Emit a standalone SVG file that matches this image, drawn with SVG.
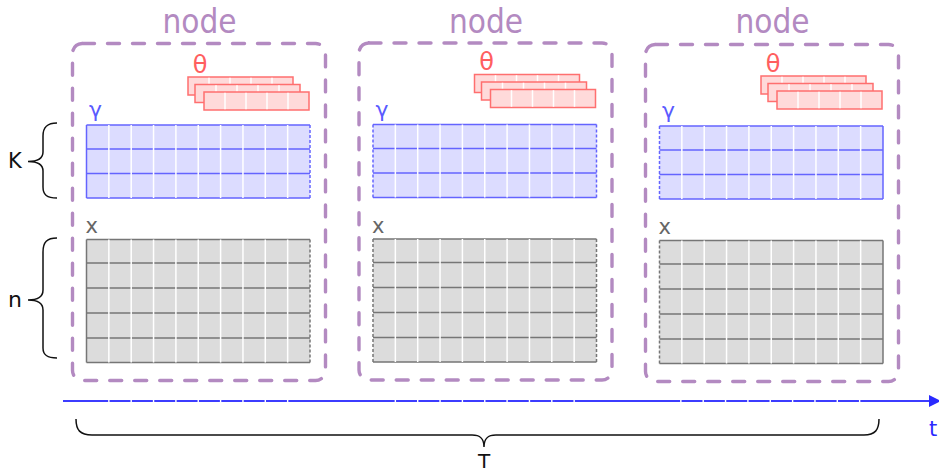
<svg xmlns="http://www.w3.org/2000/svg" width="939" height="473" viewBox="0 0 939 473">
  <style>
    text { font-family: "DejaVu Sans", "Liberation Sans", sans-serif; }
    .frame { fill: none; stroke: #b38ac1; stroke-width: 3.4; stroke-dasharray: 12 13; stroke-linecap: round; }
    .title { font-size: 33px; fill: #b38ac1; text-anchor: middle; font-stretch: condensed; }
    .theta-lbl { font-size: 24px; fill: #ff5f5f; text-anchor: middle; }
    .gamma-lbl { font-size: 22px; fill: #5a5aff; text-anchor: middle; }
    .x-lbl { font-size: 21px; fill: #666666; text-anchor: middle; }
    .sheet { fill: #ffdada; stroke: #ff6f6f; stroke-width: 1.5; }
    .cut { stroke: #ffffff; stroke-width: 1.5; fill: none; }
    .gfill { fill: #dcdcff; }
    .gline { stroke: #6464ff; stroke-width: 1.5; fill: none; }
    .xfill { fill: #dcdcdc; }
    .xline { stroke: #767676; stroke-width: 1.5; fill: none; }
    .dash { stroke-dasharray: 3 2; }
    .brace { fill: none; stroke: #111111; stroke-width: 1.5; }
    .dim { font-size: 21px; fill: #111111; }
  </style>
  <defs>
    <!-- one theta sheet: 5 cells -->
    <g id="sheet">
      <rect class="sheet" x="0" y="0" width="105" height="18"/>
      <path class="cut" d="M21,0.8V17.2M42,0.8V17.2M63,0.8V17.2M84,0.8V17.2"/>
    </g>
    <!-- stack of three theta sheets with its label -->
    <g id="theta">
      <text class="theta-lbl" x="200" y="72.5">θ</text>
      <use href="#sheet" x="188" y="77"/>
      <use href="#sheet" x="195" y="84.5"/>
      <use href="#sheet" x="204" y="92"/>
    </g>
    <!-- white column separators shared by gamma and x grids (10 columns) -->
    <path id="cols-g" class="cut" d="M108.85,125V198M131.2,125V198M153.55,125V198M175.9,125V198M198.25,125V198M220.6,125V198M242.95,125V198M265.3,125V198M287.65,125V198"/>
    <path id="cols-x" class="cut" d="M108.85,239.5V362.5M131.2,239.5V362.5M153.55,239.5V362.5M175.9,239.5V362.5M198.25,239.5V362.5M220.6,239.5V362.5M242.95,239.5V362.5M265.3,239.5V362.5M287.65,239.5V362.5"/>
    <g id="gamma-body">
      <text class="gamma-lbl" x="95.5" y="117">γ</text>
      <rect class="gfill" x="86.5" y="125" width="223.5" height="73"/>
      <path class="gline" d="M86.5,125H310M86.5,149H310M86.5,173.5H310M86.5,198H310"/>
      <use href="#cols-g"/>
    </g>
    <g id="x-body">
      <text class="x-lbl" x="91.7" y="233.3">x</text>
      <rect class="xfill" x="86.5" y="239.5" width="223.5" height="123"/>
      <path class="xline" d="M86.5,239.5H310M86.5,263H310M86.5,288H310M86.5,313H310M86.5,338H310M86.5,362.5H310"/>
      <use href="#cols-x"/>
    </g>
  </defs>

  <!-- first time slice: closed on the left, open on the right -->
  <g id="node-1">
    <text class="title" x="199.5" y="33">node</text>
    <rect class="frame" x="72.5" y="43.5" width="253" height="337" rx="10"/>
    <use href="#theta"/>
    <use href="#gamma-body"/>
    <path class="gline" d="M86.5,125V198"/>
    <path class="gline dash" d="M310,125V198"/>
    <use href="#x-body"/>
    <path class="xline" d="M86.5,239.5V362.5"/>
    <path class="xline dash" d="M310,239.5V362.5"/>
  </g>

  <!-- middle time slice: open on both sides -->
  <g id="node-2" transform="translate(286.5,-0.5)">
    <text class="title" x="199.5" y="33.5">node</text>
    <rect class="frame" x="72.5" y="43.5" width="253" height="337" rx="10"/>
    <g transform="translate(0,-2)"><use href="#theta"/></g>
    <use href="#gamma-body"/>
    <path class="gline dash" d="M86.5,125V198M310,125V198"/>
    <use href="#x-body"/>
    <path class="xline dash" d="M86.5,239.5V362.5M310,239.5V362.5"/>
  </g>

  <!-- last time slice: open on the left, closed on the right -->
  <g id="node-3" transform="translate(573,1)">
    <text class="title" x="199.5" y="32">node</text>
    <rect class="frame" x="72.5" y="43.5" width="253" height="337" rx="10"/>
    <g transform="translate(0,-2)"><use href="#theta"/></g>
    <use href="#gamma-body"/>
    <path class="gline dash" d="M86.5,125V198"/>
    <path class="gline" d="M310,125V198"/>
    <use href="#x-body"/>
    <path class="xline dash" d="M86.5,239.5V362.5"/>
    <path class="xline" d="M310,239.5V362.5"/>
  </g>

  <!-- dimension braces and time axis -->
  <g id="connectors">
    <path class="brace" d="M57,123 C47,123 43,127 43,136 L43,152 C43,158 38,161.5 28,161.5 C38,161.5 43,165 43,171 L43,187 C43,195 47,198 57,198"/>
    <text class="dim" x="8" y="168.3">K</text>
    <path class="brace" d="M57,238 C47,238 43,242 43,252 L43,290 C43,296 38,300 28,300 C38,300 43,304 43,310 L43,348 C43,355 47,358 57,358"/>
    <text class="dim" x="8" y="306.5" style="font-size:22px">n</text>

    <line x1="63" y1="401" x2="931" y2="401" stroke="#3c3cff" stroke-width="2.2"/>
    <polygon points="929,395 941,401 929,407" fill="#2a2aff"/>
    <g stroke="#ffffff" stroke-width="1.4">
      <path d="M108.85,399V403M131.2,399V403M153.55,399V403M175.9,399V403M198.25,399V403M220.6,399V403M242.95,399V403M265.3,399V403M287.65,399V403"/>
      <path transform="translate(286.5,0)" d="M108.85,399V403M131.2,399V403M153.55,399V403M175.9,399V403M198.25,399V403M220.6,399V403M242.95,399V403M265.3,399V403M287.65,399V403"/>
      <path transform="translate(572,0)" d="M108.85,399V403M131.2,399V403M153.55,399V403M175.9,399V403M198.25,399V403M220.6,399V403M242.95,399V403M265.3,399V403M287.65,399V403"/>
    </g>
    <text x="929" y="435.5" style="font-size:21px;fill:#2a2aff">t</text>

    <path class="brace" d="M76,419 C76,430 80,435 92,435 L472,435 C480,435 484,438 484,447 C484,438 488,435 496,435 L864,435 C875,435 879,430 879,419"/>
    <text class="dim" x="484" y="468" text-anchor="middle" style="font-size:20px">T</text>
  </g>
</svg>
